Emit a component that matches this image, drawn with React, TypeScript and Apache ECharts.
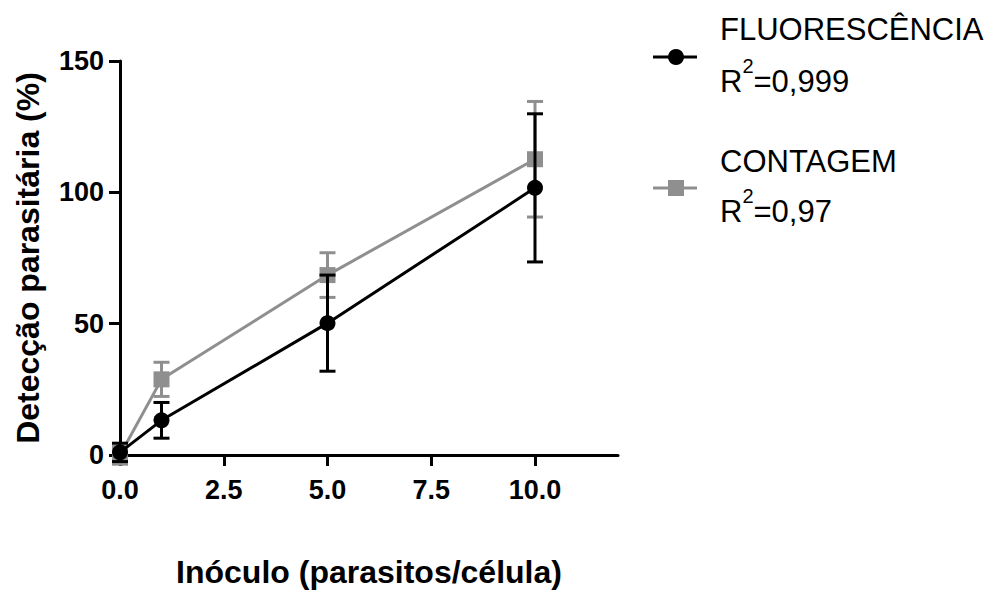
import React, { useEffect, useRef } from "react";
import * as echarts from "echarts";

// ---- data ----
const xValues = [0, 1, 5, 10];
const fluorMean = [1, 13.2, 50.2, 101.7];
const fluorErr = [3.5, 6.8, 18.3, 28.2];
const contMean = [0, 28.8, 68.5, 112.6];
const contErr = [3.5, 6.5, 8.5, 22];
const xTicks = [0, 2.5, 5, 7.5, 10];
const xTickLabels = ["0.0", "2.5", "5.0", "7.5", "10.0"];
const yTicks = [0, 50, 100, 150];
const seriesNames = ["FLUORESCÊNCIA", "CONTAGEM"];
const r2Values = ["0,999", "0,97"];
const xTitle = "Inóculo (parasitos/célula)";
const yTitle = "Detecção parasitária (%)";

const FONT = "'Liberation Sans', Arial, Helvetica, sans-serif";
const BLACK = "#000000";
const GRAY = "#8f8f8f";

const makeErr = (color: string) => (params: any, api: any) => {
  const x = api.value(0);
  const lo = api.value(1);
  const hi = api.value(2);
  const pLo = api.coord([x, lo]);
  const pHi = api.coord([x, hi]);
  const hw = 8;
  const style = { stroke: color, lineWidth: 3, fill: "none" };
  return {
    type: "group",
    children: [
      { type: "line", shape: { x1: pLo[0], y1: pLo[1], x2: pHi[0], y2: pHi[1] }, style },
      { type: "line", shape: { x1: pLo[0] - hw, y1: pLo[1], x2: pLo[0] + hw, y2: pLo[1] }, style },
      { type: "line", shape: { x1: pHi[0] - hw, y1: pHi[1], x2: pHi[0] + hw, y2: pHi[1] }, style },
    ],
  };
};

const legendItem = (i: number, color: string, symbol: "circle" | "rect", cy: number, nameY: number, r2Y: number) => {
  const marker =
    symbol === "circle"
      ? { type: "circle", shape: { cx: 676, cy, r: 8 }, style: { fill: color } }
      : { type: "rect", shape: { x: 668, y: cy - 8, width: 16, height: 16 }, style: { fill: color } };
  return [
    { type: "line", shape: { x1: 653, y1: cy, x2: 697, y2: cy }, style: { stroke: color, lineWidth: 3 } },
    marker,
    {
      type: "text",
      x: 720,
      y: nameY,
      style: { text: seriesNames[i], font: `31px ${FONT}`, fill: "#000", verticalAlign: "middle", align: "left" },
    },
    {
      type: "text",
      x: 720,
      y: r2Y,
      style: {
        text: `{r|R}{s|2}{r|=${r2Values[i]}}`,
        verticalAlign: "middle",
        align: "left",
        rich: {
          r: { fontSize: 31, fontFamily: FONT, lineHeight: 50, fill: "#000" },
          s: { fontSize: 20, fontFamily: FONT, verticalAlign: "top", fill: "#000" },
        },
      },
    },
  ];
};

export default function App() {
  const ref = useRef<HTMLDivElement>(null);
  useEffect(() => {
    if (!ref.current) return;
    const chart = echarts.init(ref.current, null, { renderer: "svg" });
    const fluorLine = xValues.map((x, i) => [x, fluorMean[i]]);
    const contLine = xValues.map((x, i) => [x, contMean[i]]);
    const fluorBars = xValues.map((x, i) => [x, fluorMean[i] - fluorErr[i], fluorMean[i] + fluorErr[i]]);
    const contBars = xValues.map((x, i) => [x, contMean[i] - contErr[i], contMean[i] + contErr[i]]);

    chart.setOption({
      animation: false,
      backgroundColor: "#ffffff",
      grid: { left: 120, top: 61, width: 498, height: 400, containLabel: false },
      xAxis: {
        type: "value",
        min: 0,
        max: 12,
        interval: 2.5,
        name: xTitle,
        nameLocation: "middle",
        nameGap: 101,
        nameTextStyle: { fontFamily: FONT, fontSize: 32, fontWeight: "bold", color: "#000" },
        axisLine: { show: true, lineStyle: { color: "#000", width: 3 } },
        axisTick: { show: true, length: 11, lineStyle: { color: "#000", width: 3 }, customValues: xTicks },
        axisLabel: {
          customValues: xTicks,
          formatter: (v: number) => xTickLabels[xTicks.indexOf(v)] ?? "",
          fontFamily: FONT,
          fontSize: 27,
          fontWeight: "bold",
          color: "#000",
          margin: 21,
        },
        splitLine: { show: false },
      },
      yAxis: {
        type: "value",
        min: 0,
        max: 150,
        interval: 50,
        name: yTitle,
        nameLocation: "middle",
        nameGap: 76,
        nameTextStyle: { fontFamily: FONT, fontSize: 32, fontWeight: "bold", color: "#000" },
        axisLine: { show: true, lineStyle: { color: "#000", width: 3 } },
        axisTick: { show: true, length: 11, lineStyle: { color: "#000", width: 3 }, customValues: yTicks },
        axisLabel: {
          customValues: yTicks,
          fontFamily: FONT,
          fontSize: 27,
          fontWeight: "bold",
          color: "#000",
          margin: 16,
        },
        splitLine: { show: false },
      },
      series: [
        {
          type: "custom",
          name: "contErr",
          renderItem: makeErr(GRAY),
          data: contBars,
          encode: { x: 0, y: [1, 2] },
          z: 2,
          clip: false,
          silent: true,
        },
        {
          type: "line",
          name: seriesNames[1],
          data: contLine,
          symbol: "rect",
          symbolSize: 16,
          lineStyle: { color: GRAY, width: 3 },
          itemStyle: { color: GRAY },
          z: 3,
          clip: false,
          silent: true,
        },
        {
          type: "custom",
          name: "fluorErr",
          renderItem: makeErr(BLACK),
          data: fluorBars,
          encode: { x: 0, y: [1, 2] },
          z: 4,
          clip: false,
          silent: true,
        },
        {
          type: "line",
          name: seriesNames[0],
          data: fluorLine,
          symbol: "circle",
          symbolSize: 16,
          lineStyle: { color: BLACK, width: 3 },
          itemStyle: { color: BLACK },
          z: 5,
          clip: false,
          silent: true,
        },
      ],
      graphic: [
        ...legendItem(0, BLACK, "circle", 57, 29, 81),
        ...legendItem(1, GRAY, "rect", 188, 161, 211),
      ],
    });
    return () => chart.dispose();
  }, []);

  return (
    <div
      ref={ref}
      style={{ position: "fixed", left: 0, top: 0, width: 998, height: 593, background: "#fff" }}
    />
  );
}
